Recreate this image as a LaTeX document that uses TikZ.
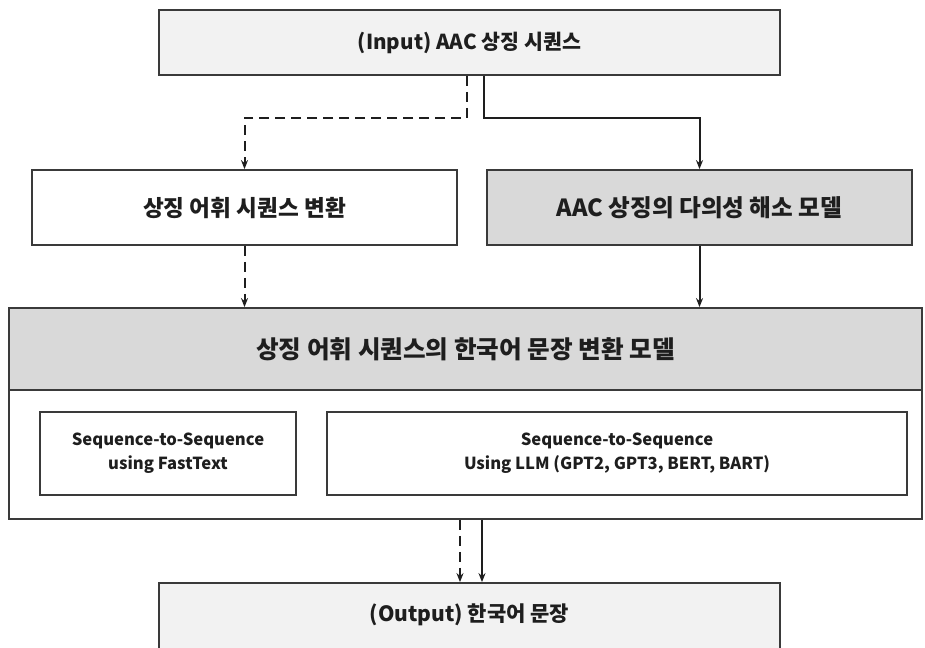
\documentclass[tikz,border=0pt]{standalone}
\usepackage{fontspec}
\setmainfont{Noto Sans CJK KR}
\usetikzlibrary{arrows.meta}
\definecolor{boxline}{HTML}{3A3A3A}
\definecolor{lightfill}{HTML}{F2F2F2}
\definecolor{midfill}{HTML}{D9D9D9}
\definecolor{ink}{HTML}{1E1E1E}
\newcommand{\fsz}[1]{\fontsize{#1}{1.2\dimexpr#1pt\relax}\selectfont\bfseries}
\begin{document}
\begin{tikzpicture}[x=1pt,y=-1pt,
  box/.style={draw=boxline,line width=1.8pt,rectangle,inner sep=0pt,align=center,text=ink},
  subbox/.style={box,font={\fontsize{16.6}{24}\selectfont\bfseries}},
  flow/.style={line width=2pt,draw=ink,-{Stealth[length=9pt,width=7pt]}},
  altflow/.style={flow,dash pattern=on 10pt off 6pt}]
\useasboundingbox (0,0) rectangle (925,647);
% top and bottom boxes
\node[box,fill=lightfill,minimum width=621pt,minimum height=65pt,font=\fsz{20.6}] (inp) at (469.5,42.5) {(Input) AAC 상징 시퀀스};
\node[box,fill=lightfill,minimum width=621pt,minimum height=80pt] (out) at (469.5,623) {};
\node[text=ink,font=\fsz{21}] (outlabel) at (469.5,615) {(Output) 한국어 문장};
% middle row
\node[box,fill=white,minimum width=425pt,minimum height=75pt,font=\fsz{22.6}] (lbox) at (244.5,207.5) {상징 어휘 시퀀스 변환};
\node[box,fill=midfill,minimum width=425pt,minimum height=75pt,font=\fsz{23.6}] (rbox) at (699.5,207.5) {AAC 상징의 다의성 해소 모델};
% conversion model block
\node[box,fill=white,minimum width=913pt,minimum height=211pt] (model) at (465.5,413.5) {};
\node[box,fill=midfill,minimum width=913pt,minimum height=82pt,font=\fsz{24.6}] (head) at (465.5,349) {상징 어휘 시퀀스의 한국어 문장 변환 모델};
\node[subbox,fill=white,minimum width=256pt,minimum height=83pt] (ft) at (168,453.5) {Sequence-to-Sequence\\using FastText};
\node[subbox,fill=white,minimum width=580pt,minimum height=83pt] (llm) at (617,453.5) {Sequence-to-Sequence\\Using LLM (GPT2, GPT3, BERT, BART)};
% connectors
\draw[altflow] ([xshift=-2.5pt]inp.south) -- ++(0,42) -| (lbox.north);
\draw[flow] ([xshift=14.5pt]inp.south) -- ++(0,42) -| (rbox.north);
\draw[altflow] (lbox.south) -- (lbox.south |- head.north);
\draw[flow] (rbox.south) -- (rbox.south |- head.north);
\draw[altflow] ([xshift=-5.5pt]model.south) -- ([xshift=-9.5pt]out.north);
\draw[flow] ([xshift=16.5pt]model.south) -- ([xshift=12.5pt]out.north);
\end{tikzpicture}
\end{document}
